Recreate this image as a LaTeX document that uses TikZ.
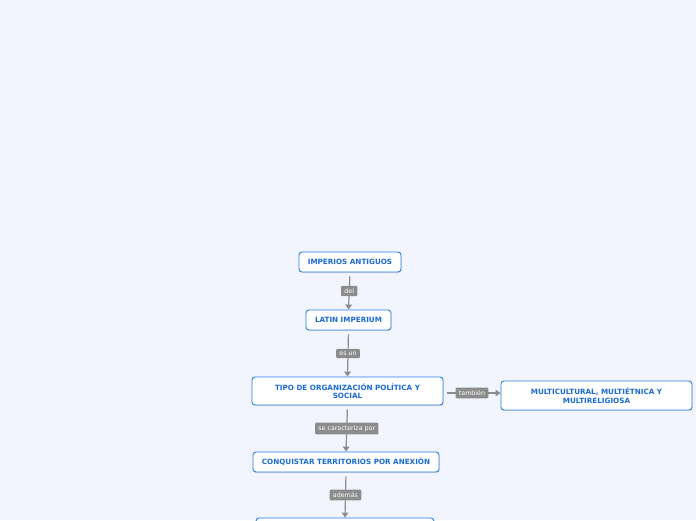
\documentclass[tikz,border=0pt]{standalone}
\usepackage{fontspec}
\setsansfont{DejaVu Sans}
\usepackage{xcolor}
\definecolor{canvas}{HTML}{F2F5FE}
\definecolor{mapblue}{HTML}{2A7DE1}
\definecolor{mapink}{HTML}{1A6BD6}
\definecolor{linkgray}{HTML}{8C8C8C}
\usepackage{tikz}
\usetikzlibrary{arrows.meta, positioning, shadows}

\tikzset{
  topic/.style={draw=mapblue, fill=white, line width=0.9pt, rounded corners=3pt,
    font=\sffamily\fontsize{7.2}{8.5}\selectfont\bfseries, text=mapink, align=center,
    inner sep=0pt,
    drop shadow={shadow xshift=0.6pt, shadow yshift=-1pt, fill=black!25, opacity=0.5}},
  link/.style={draw=linkgray, line width=1.2pt, shorten <=4pt,
    -{Triangle[width=6.5pt,length=5pt]}},
  linkword/.style={fill=linkgray, text=white, rounded corners=1pt,
    font=\sffamily\fontsize{6.3}{7}\selectfont, inner xsep=3.3pt, inner ysep=2.8pt}
}

\begin{document}
\begin{tikzpicture}[x=1pt, y=-1pt]
  \useasboundingbox (0,0) rectangle (696,520);
  \fill[canvas] (0,0) rectangle (696,520);

  % main column
  \node[topic, minimum width=102pt, minimum height=20pt] (imperios) at (350,262) {IMPERIOS ANTIGUOS};
  \node[topic, minimum width=85pt, minimum height=20pt] (latin) at (348.5,320) {LATIN IMPERIUM};
  \node[topic, minimum width=191pt, minimum height=28pt] (tipo) at (347.5,391) {TIPO DE ORGANIZACIÓN POLÍTICA Y\\SOCIAL};
  \node[topic, minimum width=186pt, minimum height=20pt] (conquistar) at (346,462) {CONQUISTAR TERRITORIOS POR ANEXIÓN};
  \node[topic, minimum width=178pt, minimum height=20pt] (siguiente) at (345,528) {};

  % side branch
  \node[topic, minimum width=191pt, minimum height=29pt] (multi) at (596.5,395.5) {MULTICULTURAL, MULTIÉTNICA Y\\MULTIRELIGIOSA};

  % connectors
  \draw[link] (imperios.south) -- node[linkword] {del} (latin.north);
  \draw[link] (latin.south) -- node[linkword] {es un} (tipo.north);
  \draw[link] (tipo.south) -- node[linkword] {se caracteriza por} (conquistar.north);
  \draw[link] (conquistar.south) -- node[linkword] {además} (siguiente.north);
  \draw[link] ([yshift=-2pt]tipo.east) -- node[linkword] {también} ([yshift=-2pt]tipo.east -| multi.west);
\end{tikzpicture}
\end{document}
